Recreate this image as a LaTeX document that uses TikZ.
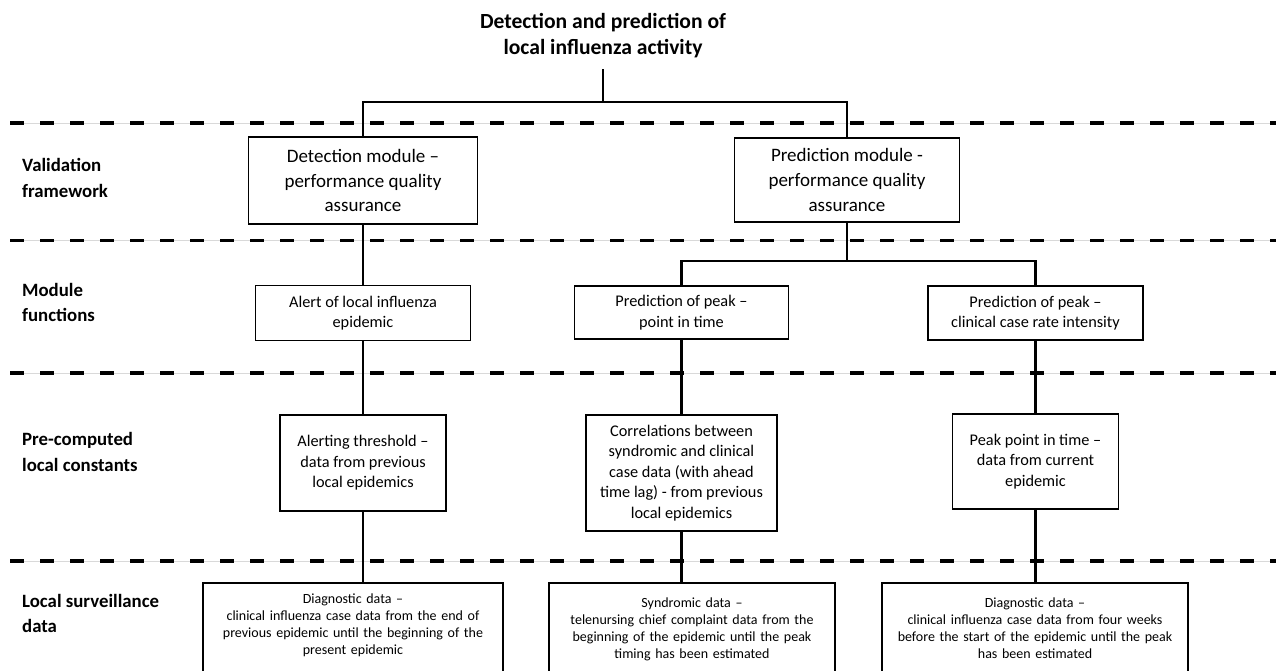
\documentclass[tikz,border=0pt]{standalone}
\usepackage{fontspec}
\setmainfont{Carlito}
\begin{document}
\begin{tikzpicture}[x=1pt,y=-1pt,
  layer/.style={anchor=west, align=left, inner sep=0pt, font=\bfseries\fontsize{18.8}{25.3}\selectfont},
  bigbox/.style={draw, line width=1.6pt, align=center, inner sep=0pt, font=\fontsize{19}{24.6}\selectfont},
  midbox/.style={draw, line width=1.6pt, align=center, inner sep=0pt, font=\fontsize{16.3}{20.6}\selectfont},
  databox/.style={draw, line width=1.6pt, anchor=north, align=center, inner xsep=4pt, inner ysep=11pt, text depth=100pt, font=\fontsize{14}{17}\selectfont},
  link/.style={line width=2.5pt},
  divider/.style={line width=3.2pt, dash pattern=on 14pt off 16pt}]
\useasboundingbox (0,0) rectangle (1276,670);

% draw layer borders
\foreach \y in {123,240.5,373,561}
{
\draw[gray!30, line width=0.8pt] (10,\y) -- (1276,\y);
\draw[divider] (10,\y) -- (1276,\y);
}

% draw layer labels
\foreach \y/\txt [count=\i] in {178/{Validation\\framework}, 302.5/{Module\\functions}, 452/{Pre-computed\\local constants}, 613.5/{Local surveillance\\data}}
{
\node[layer] (layer\i) at (22,\y) {\txt};
}

% draw goal
\node[font=\bfseries\fontsize{21.6}{26}\selectfont, align=center, inner sep=11pt] (goal) at (603,36) {Detection and prediction of\\local influenza activity};

% draw modules
\node[bigbox, minimum width=229pt, minimum height=87pt] (det) at (363,180.5) {Detection module –\\performance quality\\assurance};
\node[bigbox, minimum width=225pt, minimum height=84pt] (pred) at (847,180) {Prediction module -\\performance quality\\assurance};

% draw functions
\node[midbox, minimum width=215pt, minimum height=55pt] (alert) at (363,313) {Alert of local influenza\\epidemic};
\node[midbox, minimum width=214pt, minimum height=53pt] (timing) at (681.5,312.5) {Prediction of peak –\\point in time};
\node[midbox, minimum width=215pt, minimum height=54pt] (intensity) at (1035.5,313) {Prediction of peak –\\clinical case rate intensity};

% draw constants
\node[midbox, minimum width=166pt, minimum height=96pt] (threshold) at (363,463) {Alerting threshold –\\data from previous\\local epidemics};
\node[midbox, minimum width=191pt, minimum height=116pt] (correlation) at (681.5,473) {Correlations between\\syndromic and clinical\\case data (with ahead\\time lag) - from previous\\local epidemics};
\node[midbox, minimum width=166pt, minimum height=95pt] (peakpoint) at (1035.5,461.5) {Peak point in time –\\data from current\\epidemic};

% draw surveillance data
\node[databox, text width=292pt] (clinical) at (353,582) {Diagnostic data –\\clinical influenza case data from the end of\\previous epidemic until the beginning of the\\present epidemic};
\node[databox, text width=278pt, inner ysep=15pt] (syndromic) at (692,582) {Syndromic data –\\telenursing chief complaint data from the\\beginning of the epidemic until the peak\\timing has been estimated};
\node[databox, text width=298pt, inner ysep=15pt] (clinicalpeak) at (1035,582) {Diagnostic data –\\clinical influenza case data from four weeks\\before the start of the epidemic until the peak\\has been estimated};

% draw links
\coordinate (split1) at (603,102);
\coordinate (split2) at (847,261);
\draw[link] (goal.south) -- (split1);
\draw[link] (det.north) |- (split1) -| (pred.north);
\draw[link] (pred.south) -- (split2);
\draw[link] (timing.north) |- (split2) -| (intensity.north);
\draw[link] (det.south) -- (alert.north);
\draw[link] (alert.south) -- (threshold.north);
\draw[link] (timing.south) -- (correlation.north);
\draw[link] (intensity.south) -- (peakpoint.north);
\draw[link] (threshold.south) -- (threshold.south |- clinical.north);
\draw[link] (correlation.south) -- (correlation.south |- syndromic.north);
\draw[link] (peakpoint.south) -- (peakpoint.south |- clinicalpeak.north);
\end{tikzpicture}
\end{document}
